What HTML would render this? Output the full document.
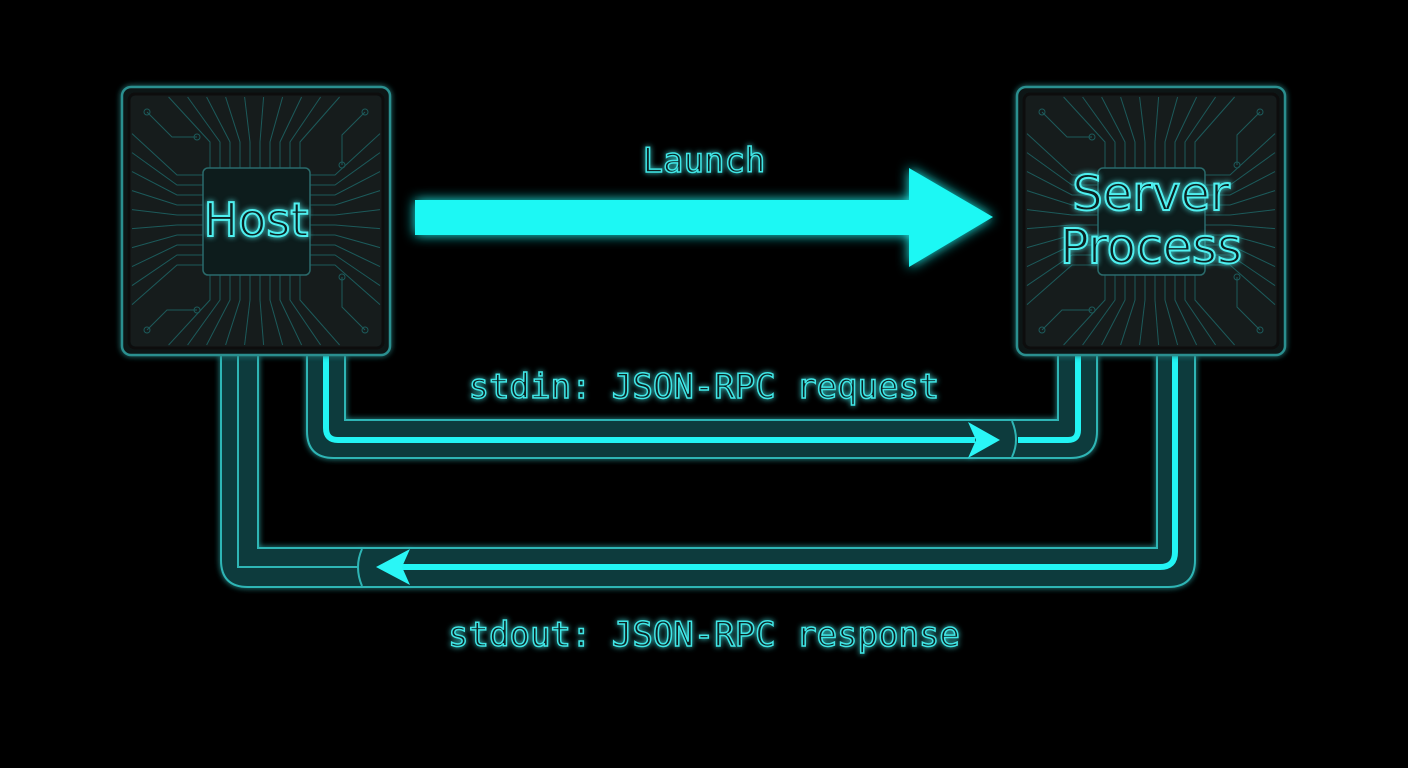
<!DOCTYPE html>
<html><head><meta charset="utf-8"><style>
html,body{margin:0;padding:0;background:#000;}
svg{display:block}
</style></head><body>
<svg id="s" width="1408" height="768" viewBox="0 0 1408 768" xmlns="http://www.w3.org/2000/svg">
<defs>
<filter id="glow" x="-20%" y="-50%" width="140%" height="200%"><feGaussianBlur stdDeviation="6" result="b"/><feMerge><feMergeNode in="b"/><feMergeNode in="SourceGraphic"/></feMerge></filter>
<filter id="glow2" x="-20%" y="-20%" width="140%" height="140%"><feGaussianBlur stdDeviation="3" result="b"/><feMerge><feMergeNode in="b"/><feMergeNode in="SourceGraphic"/></feMerge></filter>
<g id="box">
<rect x="0" y="0" width="268" height="268" rx="9" fill="#0b1616" stroke="#2a8f8f" stroke-width="2.5"/>
<rect x="7" y="7" width="254" height="254" rx="6" fill="#121d1e" stroke="#0a0f0f" stroke-width="3"/>
<g id="tr" stroke="#1f5a5a" stroke-width="1" fill="none"></g>
<rect x="81" y="81" width="107" height="107" rx="5" fill="#0f1d1e" stroke="#2a6a6a" stroke-width="1.5"/>
</g>
</defs>
<g filter="url(#glow2)">
<path d="M221,355 V560 Q221,587 248,587 H1168 Q1195,587 1195,560 V355 H1157 V548 H258 V355 Z" fill="#0d3a3c" stroke="#2fb5b5" stroke-width="2"/>
<path d="M238,355 V567 H358" fill="none" stroke="#2fb5b5" stroke-width="2"/>
<path d="M400,567 H1160 Q1175,567 1175,552 V355" fill="none" stroke="#22f4f4" stroke-width="6"/>
<path d="M362,549 Q354,567 362,586" fill="none" stroke="#2fb5b5" stroke-width="2"/>
<polygon points="376,567 410,549 402,567 410,585" fill="#2af6f6"/>
</g>
<g filter="url(#glow2)">
<path d="M307,355 V431 Q307,458 334,458 H1070 Q1097,458 1097,431 V355 H1058 V420 H345 V355 Z" fill="#0d3a3c" stroke="#2fb5b5" stroke-width="2"/>
<path d="M326,355 V428 Q326,440 338,440 H975" fill="none" stroke="#22f4f4" stroke-width="6"/>
<path d="M1018,440 H1068 Q1078,440 1078,430 V355" fill="none" stroke="#22f4f4" stroke-width="6"/>
<path d="M1012,421 Q1020,440 1012,457" fill="none" stroke="#2fb5b5" stroke-width="2"/>
<polygon points="1000,440 968,422 976,440 968,458" fill="#2af6f6"/>
</g>
<g filter="url(#glow2)"><use href="#box" x="122" y="87"/><use href="#box" x="1017" y="87"/></g>
<g filter="url(#glow)">
<polygon points="415,200 909,200 909,168 993,217 909,267 909,235 415,235" fill="#1ff8f4"/>
</g>
<g filter="url(#glow2)" font-family="'DejaVu Sans Mono','Liberation Mono',monospace" font-size="34" fill="#0a2020" stroke="#3fe6e6" stroke-width="1.5" text-anchor="middle">
<text x="704" y="172">Launch</text>
<text x="704" y="398">stdin: JSON-RPC request</text>
<text x="704" y="646">stdout: JSON-RPC response</text>
</g>
<g filter="url(#glow2)" font-family="'DejaVu Sans','Liberation Sans',sans-serif" fill="#0a2020" stroke="#4ff0f0" stroke-width="2" text-anchor="middle">
<text x="256" y="236" font-size="46">Host</text>
<text x="1151" y="210" font-size="48">Server</text>
<text x="1151" y="263" font-size="48">Process</text>
</g>
</svg>
<script>
var g=document.getElementById('tr'),s='';
function L(p){s+='<polyline points="'+p+'"/>';}
for(var i=0;i<10;i++){var x=88+i*10,d=x-134;
 L(x+',81 '+x+',55 '+(x+d*0.9)+',10');
 L(x+',188 '+x+',213 '+(x+d*0.9)+',258');
 L('81,'+x+' 55,'+x+' 10,'+(x+d*0.9));
 L('188,'+x+' 213,'+x+' 258,'+(x+d*0.9));}
L('25,25 50,50 75,50');L('243,25 220,48 220,78');L('25,243 45,223 75,223');L('243,243 220,220 220,190');
s+='<circle cx="25" cy="25" r="3"/><circle cx="75" cy="50" r="3"/><circle cx="220" cy="78" r="3"/><circle cx="243" cy="25" r="3"/><circle cx="75" cy="223" r="3"/><circle cx="25" cy="243" r="3"/><circle cx="220" cy="190" r="3"/><circle cx="243" cy="243" r="3"/>';
g.innerHTML=s;
</script>
</body></html>
